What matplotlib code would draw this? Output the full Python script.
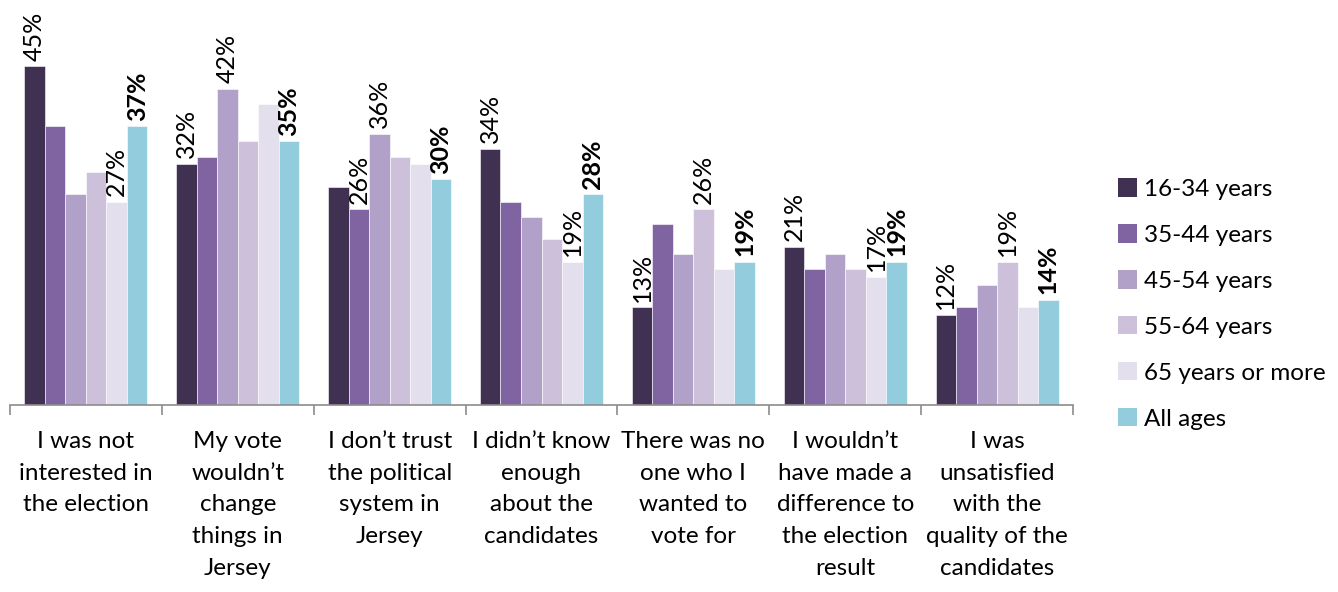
import numpy as np
import matplotlib
matplotlib.use("Agg")
import matplotlib.pyplot as plt
from matplotlib.patches import Patch

plt.rcParams['font.family'] = ['Lato', 'DejaVu Sans']

categories = [
    "I was not\ninterested in\nthe election",
    "My vote\nwouldn\u2019t\nchange\nthings in\nJersey",
    "I don\u2019t trust\nthe political\nsystem in\nJersey",
    "I didn\u2019t know\nenough\nabout the\ncandidates",
    "There was no\none who I\nwanted to\nvote for",
    "I wouldn\u2019t\nhave made a\ndifference to\nthe election\nresult",
    "I was\nunsatisfied\nwith the\nquality of the\ncandidates",
]

series_names = ["16-34 years", "35-44 years", "45-54 years", "55-64 years",
                "65 years or more", "All ages"]

age_16_34 = [45, 32, 29, 34, 13, 21, 12]
age_35_44 = [37, 33, 26, 27, 24, 18, 13]
age_45_54 = [28, 42, 36, 25, 20, 20, 16]
age_55_64 = [31, 35, 33, 22, 26, 18, 19]
age_65_plus = [27, 40, 32, 19, 18, 17, 13]
all_ages = [37, 35, 30, 28, 19, 19, 14]

colors = ["#403152", "#8064A2", "#B1A0C7", "#CCC0DA", "#E4DFEC", "#93CDDD"]

values = np.array([age_16_34, age_35_44, age_45_54, age_55_64, age_65_plus, all_ages])

W, H = 1338, 592
fig = plt.figure(figsize=(W / 100, H / 100), dpi=100)
ax = fig.add_axes([10 / W, (H - 405) / H, 1063 / W, (405 - 28.5) / H])

n_series, n_cat = values.shape
bar_w = 0.135
centers = np.arange(n_cat) + 0.5
offsets = (np.arange(n_series) - (n_series - 1) / 2) * bar_w

# Label the highest and lowest age group in each category, plus the overall figure
age_vals = values[:5]
label_mask = np.zeros_like(values, dtype=bool)
label_mask[np.argmax(age_vals, axis=0), np.arange(n_cat)] = True
label_mask[np.argmin(age_vals, axis=0), np.arange(n_cat)] = True
label_mask[5, :] = True

for i in range(n_series):
    xs = centers + offsets[i]
    ax.bar(xs, values[i], width=bar_w, color=colors[i], edgecolor="white",
           linewidth=0.4, label=series_names[i], zorder=2)
    for j in range(n_cat):
        if label_mask[i, j]:
            ax.annotate(f"{values[i, j]}%", (xs[j], values[i, j]),
                        xytext=(0, 4), textcoords="offset points",
                        rotation=90, ha="center", va="bottom",
                        fontsize=18, color="black",
                        fontweight="bold" if i == 5 else "normal",
                        annotation_clip=False)

ax.set_xlim(0, n_cat)
ax.set_ylim(0, 50)
ax.set_yticks([])
for side in ["left", "right", "top"]:
    ax.spines[side].set_visible(False)
ax.spines["bottom"].set_color("#8C8C8C")
ax.spines["bottom"].set_linewidth(1.2)

ax.set_xticks(np.arange(n_cat + 1))
ax.set_xticklabels([])
ax.tick_params(axis="x", which="major", length=7, width=1.2, color="#8C8C8C",
               direction="out")
ax.set_xticks(centers, minor=True)
ax.set_xticklabels(categories, minor=True, fontsize=17.5, linespacing=1.62,
                   va="top", ha="center")
ax.tick_params(axis="x", which="minor", length=0, pad=19)

handles = [Patch(facecolor=c, edgecolor="none") for c in colors]
fig.legend(handles, series_names, loc="center left",
           bbox_to_anchor=(1108 / W, (H - 304) / H), frameon=False,
           fontsize=17.5, handlelength=0.78, handleheight=0.78,
           handletextpad=0.3, labelspacing=1.0, borderaxespad=0)

fig.savefig("out.png", dpi=100)
